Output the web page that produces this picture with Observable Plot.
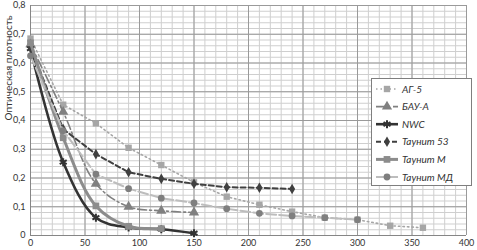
<!DOCTYPE html>
<html><head><meta charset="utf-8">
<script src="https://cdn.jsdelivr.net/npm/d3@7"></script>
<script src="https://cdn.jsdelivr.net/npm/@observablehq/plot@0.6"></script>
<style>body{margin:0;background:#fff} svg{display:block}</style>
</head><body><div id="chart"></div>
<script>
const seriesNames = ["АГ-5","БАУ-А","NWC","Таунит 53","Таунит М","Таунит МД"];
const tAG5 = [0,30,60,90,120,150,180,210,240,270,300,330,360];
const odAG5 = [0.685,0.455,0.39,0.305,0.245,0.185,0.135,0.107,0.083,0.062,0.055,0.034,0.027];
const tBAUA = [0,30,60,90,120,150];
const odBAUA = [0.665,0.43,0.18,0.1,0.086,0.08];
const tNWC = [0,30,60,90,120,150];
const odNWC = [0.65,0.255,0.062,0.028,0.022,0.008];
const tT53 = [0,30,60,90,120,150,180,210,240];
const odT53 = [0.655,0.37,0.283,0.22,0.197,0.18,0.168,0.166,0.162];
const tTM = [0,30,60,90,120];
const odTM = [0.67,0.34,0.103,0.032,0.024];
const tTMD = [0,30,60,90,120,150,180,210,240,270,300];
const odTMD = [0.625,0.365,0.213,0.163,0.13,0.113,0.093,0.077,0.068,0.062,0.055];
const xTicks = [0,50,100,150,200,250,300,350,400];
const yTicks = [0,0.1,0.2,0.3,0.4,0.5,0.6,0.7,0.8];

const styles = [
  {line:"#a6a6a6", w:1.6, dash:"1.5,3", curve:"linear", sym:"square", mfill:"#a6a6a6", mstroke:"none", r:3.6},
  {line:"#808080", w:1.6, dash:"9,3,2,3", curve:"catmull-rom", sym:"triangle", mfill:"#808080", mstroke:"none", r:3.8},
  {line:"#333333", w:2.6, dash:null, curve:"catmull-rom", sym:"asterisk", mfill:"none", mstroke:"#333333", r:3.8},
  {line:"#404040", w:2, dash:"5,3", curve:"linear", sym:"diamond", mfill:"#404040", mstroke:"none", r:3.2},
  {line:"#8c8c8c", w:3, dash:null, curve:"catmull-rom", sym:"square", mfill:"#8c8c8c", mstroke:"none", r:3.8},
  {line:"#bdbdbd", w:2, dash:"10,3", curve:"linear", sym:"circle", mfill:"#7f7f7f", mstroke:"none", r:3.4}
];
const xs = [tAG5,tBAUA,tNWC,tT53,tTM,tTMD];
const ys = [odAG5,odBAUA,odNWC,odT53,odTM,odTMD];
const data = seriesNames.map((n,i)=>xs[i].map((t,j)=>({s:n,t,v:ys[i][j]})));

const fmt = d => d===0 ? "0" : d.toFixed(1).replace(".",",");
const font = "Lato, 'Liberation Sans', sans-serif";

const marks = [
  Plot.gridX(d3.range(0,401,10), {stroke:"#cfcfcf", strokeOpacity:1}),
  Plot.gridY(d3.range(0,41).map(i=>i*0.02), {stroke:"#cfcfcf", strokeOpacity:1}),
  Plot.gridX(xTicks, {stroke:"#9a9a9a", strokeOpacity:1}),
  Plot.gridY(yTicks, {stroke:"#9a9a9a", strokeOpacity:1}),
  Plot.ruleX([0], {stroke:"#868686"}),
  Plot.ruleY([0], {stroke:"#868686"}),
  Plot.axisX({ticks:xTicks, tickSize:0, tickPadding:4, tickFormat:d=>String(d), label:null, fontSize:9, fill:"#333"}),
  Plot.axisY({ticks:yTicks, tickSize:0, tickPadding:5, tickFormat:fmt, label:null, fontSize:9, fill:"#333"}),
  Plot.text(["Оптическая плотность"], {frameAnchor:"left", rotate:-90, dx:-22, fontSize:10, fill:"#333"})
];
data.forEach((d,i)=>{
  const st = styles[i];
  marks.push(Plot.line(d, {x:"t", y:"v", stroke:st.line, strokeWidth:st.w, strokeDasharray:st.dash, curve:st.curve}));
  marks.push(Plot.dot(d, {x:"t", y:"v", symbol:()=>st.sym, r:st.r, fill:st.mfill, stroke:st.mstroke, strokeWidth:st.sym==="asterisk"?2:0}));
});

const chart = Plot.plot({
  width:477, height:250,
  marginLeft:30, marginRight:11, marginTop:5, marginBottom:15,
  style:{fontFamily:font, background:"#fff"},
  x:{domain:[0,400]},
  y:{domain:[0,0.8]},
  symbol:{type:"identity"},
  marks
});
document.getElementById("chart").appendChild(chart);

// legend
const svg = d3.select(chart);
const lg = svg.append("g").attr("text-anchor","start");
lg.append("rect").attr("x",371.5).attr("y",78.5).attr("width",100).attr("height",107)
  .attr("fill","#fff").attr("stroke","#7f7f7f").attr("stroke-width",1);
const symMap = {square:d3.symbolSquare, triangle:d3.symbolTriangle, asterisk:d3.symbolAsterisk, diamond:d3.symbolDiamond, circle:d3.symbolCircle};
seriesNames.forEach((n,i)=>{
  const st = styles[i];
  const y = 89 + i*17.6;
  lg.append("line").attr("x1",376).attr("x2",398).attr("y1",y).attr("y2",y)
    .attr("stroke",st.line).attr("stroke-width",st.w).attr("stroke-dasharray",st.dash);
  const size = Math.PI*st.r*st.r;
  lg.append("path").attr("d", d3.symbol(symMap[st.sym], size)())
    .attr("transform",`translate(387,${y})`)
    .attr("fill",st.mfill).attr("stroke",st.mstroke).attr("stroke-width",st.sym==="asterisk"?2:0);
  lg.append("text").attr("x",402).attr("y",y).attr("dy","0.35em").attr("text-anchor","start")
    .attr("font-size",10).attr("font-style","italic").attr("fill","#333").attr("font-family",font).text(n);
});
</script></body></html>
